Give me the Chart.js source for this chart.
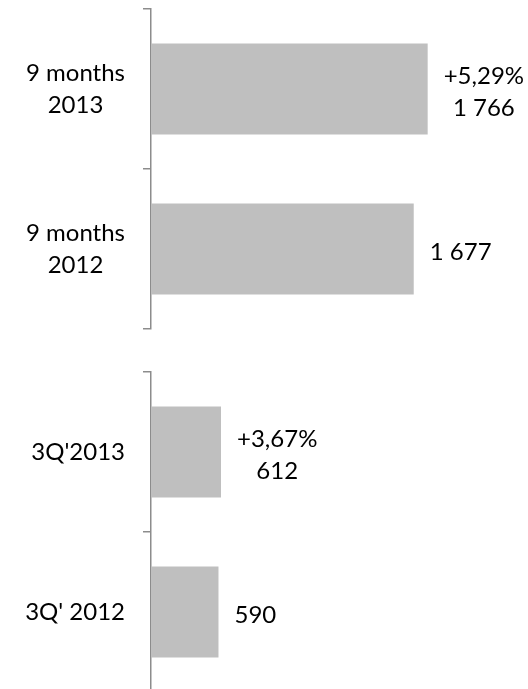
<!DOCTYPE html>
<html>
<head>
<meta charset="utf-8">
<script src="https://cdn.jsdelivr.net/npm/chart.js@4.4.0/dist/chart.umd.min.js"></script>
<style>
html, body { margin: 0; padding: 0; background: #fff; overflow: hidden; width: 528px; height: 689px; }
.box { position: absolute; left: 0; width: 528px; height: 340px; }
</style>
</head>
<body>
<div class="box" style="top:0"><canvas id="chartTop"></canvas></div>
<div class="box" style="top:363px"><canvas id="chartBottom"></canvas></div>
<script>
// data
var labels9m = [['9 months', '2013'], ['9 months', '2012']];
var values9m = [1766, 1677];
var change9m = ['+5,29%', ''];

var labels3q = ["3Q'2013", "3Q' 2012"];
var values3q = [612, 590];
var change3q = ['+3,67%', ''];

var FONT = 'Lato';

function formatNum(v) {
    return String(v).replace(/\B(?=(\d{3})+(?!\d))/g, ' ');
}

// draws "+x,xx%" / value to the right of each bar
var barLabels = {
    id: 'barLabels',
    afterDatasetsDraw: function(chart) {
        var ctx = chart.ctx;
        var ds = chart.data.datasets[0];
        var meta = chart.getDatasetMeta(0);
        ctx.save();
        ctx.font = '24px ' + FONT;
        ctx.fillStyle = '#000';
        ctx.textAlign = 'center';
        ctx.textBaseline = 'middle';
        meta.data.forEach(function(bar, i) {
            var lines = [];
            if (ds.changes[i]) lines.push(ds.changes[i]);
            lines.push(formatNum(ds.data[i]));
            var w = Math.max.apply(null, lines.map(function(t) { return ctx.measureText(t).width; }));
            var x = bar.x + 16 + w / 2;
            var y0 = bar.y + 3 - (lines.length - 1) * 16;
            lines.forEach(function(t, k) { ctx.fillText(t, x, y0 + k * 32); });
        });
        ctx.restore();
    }
};

function makeChart(id, cats, vals, changes, max, padRight, align) {
    return new Chart(document.getElementById(id), {
        type: 'bar',
        data: {
            labels: cats,
            datasets: [{
                data: vals,
                changes: changes,
                backgroundColor: '#bfbfbf',
                borderWidth: 0,
                barPercentage: 0.57,
                categoryPercentage: 1
            }]
        },
        plugins: [barLabels],
        options: {
            indexAxis: 'y',
            responsive: true,
            maintainAspectRatio: false,
            animation: false,
            layout: { padding: { top: 9, bottom: 11, left: 0, right: padRight } },
            plugins: { legend: { display: false }, tooltip: { enabled: false } },
            scales: {
                x: { display: false, min: 0, max: max },
                y: {
                    offset: true,
                    afterFit: function(scale) {
                        scale.width = 151;
                        scale.paddingTop = 0;
                        scale.paddingBottom = 0;
                    },
                    grid: {
                        offset: true,
                        drawOnChartArea: false,
                        drawTicks: true,
                        tickLength: 8,
                        color: '#8c8c8c',
                        lineWidth: 1.5
                    },
                    border: { display: true, color: '#8c8c8c', width: 1.5 },
                    ticks: {
                        color: '#000',
                        padding: 18,
                        crossAlign: align,
                        font: { family: FONT, size: 24, lineHeight: 1.33 }
                    }
                }
            }
        }
    });
}

makeChart('chartTop', labels9m, values9m, change9m, 2400, 1, 'center');
makeChart('chartBottom', labels3q, values3q, change3q, 3200, 11, 'near');
</script>
</body>
</html>
